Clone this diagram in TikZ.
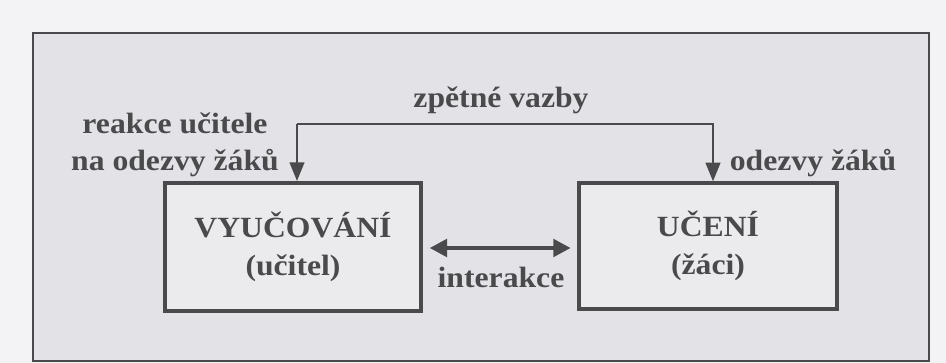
\documentclass[tikz,border=0pt]{standalone}
\usepackage{fontspec}
\setmainfont{Liberation Serif}[FakeStretch=1.08]
\usetikzlibrary{arrows.meta,calc}

\definecolor{paper}{HTML}{F3F3F5}
\definecolor{panel}{HTML}{E3E2E6}
\definecolor{boxfill}{HTML}{EBEAED}
\definecolor{ink}{HTML}{4A4A4C}

\tikzset{every picture/.style={line width=0.75pt}}
\tikzset{
  blok/.style={draw=ink, fill=boxfill, line width=3pt, align=center, inner sep=0pt,
    font=\bfseries\fontsize{22}{29}\selectfont, text=ink},
  popis/.style={inner sep=0pt, align=center, font=\bfseries\fontsize{22}{28}\selectfont, text=ink},
  vazba/.style={draw=ink, line width=1.6pt, -{Triangle[length=14pt,width=11pt]}},
  obousm/.style={draw=ink, line width=3pt, {Triangle[length=13pt,width=13pt]}-{Triangle[length=13pt,width=13pt]}, shorten <=5pt, shorten >=5pt}
}

\begin{document}
\begin{tikzpicture}[x=0.75pt,y=0.75pt,yscale=-1,xscale=1]
        \fill[paper] (0,0) rectangle (946,363);
        \useasboundingbox (0,0) rectangle (946,363);
        \draw[draw=ink, fill=panel, line width=1.8pt] (33,33) -- (929,33) -- (929,361) -- (33,361) -- cycle ;

        \node[blok, minimum width=192pt, minimum height=96pt] (vyuc) at (293,247) {VYUČOVÁNÍ\\(učitel)};
        \node[blok, minimum width=193pt, minimum height=94pt] (uceni) at (708,246) {UČENÍ\\(žáci)};

        \coordinate (fbl) at (297,124);
        \coordinate (fbr) at (713,124);
        \draw[vazba] (fbl) -- (fbl |- vyuc.north);
        \draw[vazba] (fbl) -- (fbr) -- (fbr |- uceni.north);
        \draw[obousm] (vyuc.east |- 0,248) -- (uceni.west |- 0,248);

        \node[popis] (zpet) at (501,100) {zpětné vazby};
        \node[popis] (reakce) at (175,145) {reakce učitele\\na odezvy žáků};
        \node[popis] (odezvy) at (813,163) {odezvy žáků};
        \node[popis] (inter) at (501,277) {interakce};
    \end{tikzpicture}
\end{document}
